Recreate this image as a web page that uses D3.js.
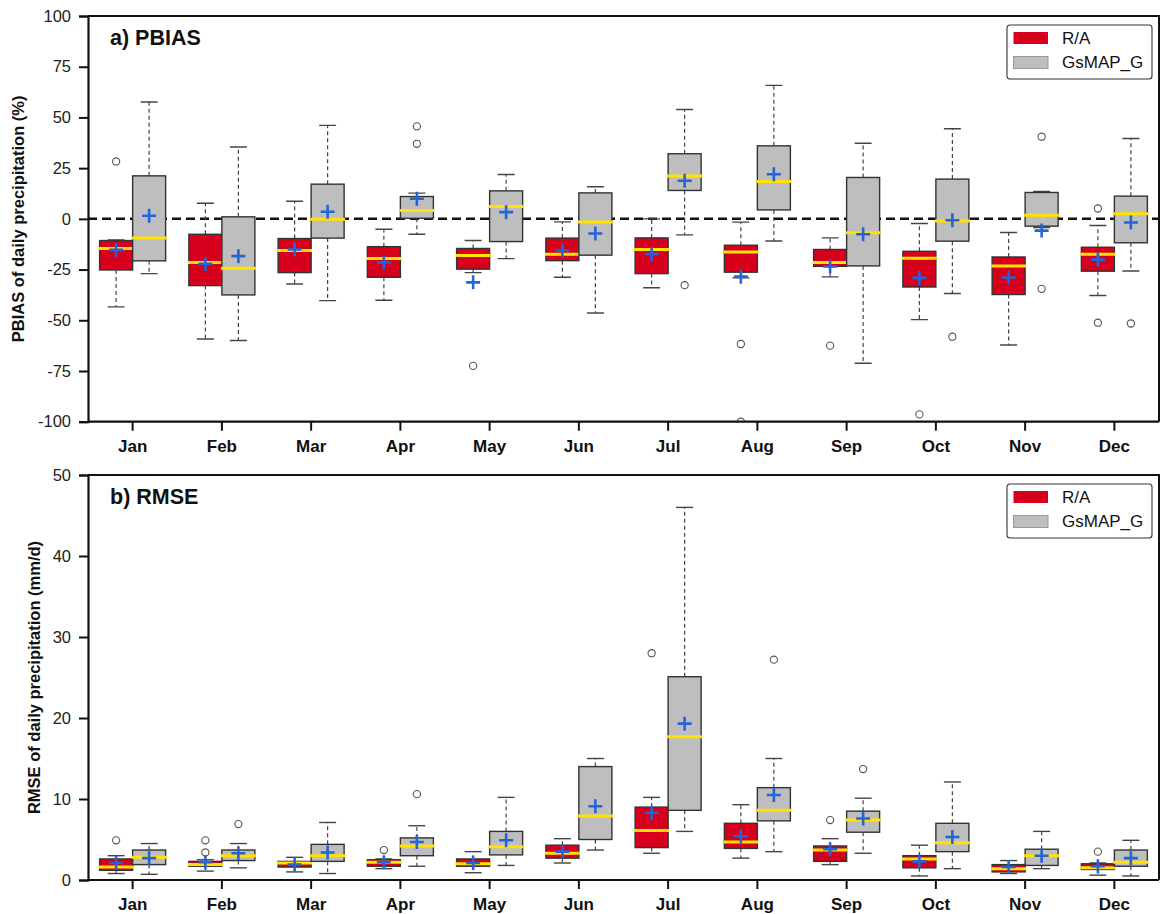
<!DOCTYPE html>
<html>
<head>
<meta charset="utf-8">
<script src="https://cdn.jsdelivr.net/npm/d3@7/dist/d3.min.js"></script>
<style>
  body { margin: 0; background: #fff; }
  svg { display: block; font-family: "Liberation Sans", Arial, sans-serif; }
</style>
</head>
<body>
<svg id="chart" width="1160" height="914"></svg>
<script>
// Month categories
const months = ["Jan","Feb","Mar","Apr","May","Jun","Jul","Aug","Sep","Oct","Nov","Dec"];
const seriesNames = ["R/A", "GsMAP_G"];

// Box statistics per month: [whiskerLow, q1, median, q3, whiskerHigh, mean]
const pbiasRA = [
  [-43.4, -25.2, -14.6, -10.7, -10.4, -15.3],
  [-59.2, -32.9, -21.5,  -7.6,   7.7, -22.2],
  [-32.1, -26.5, -15.6,  -9.7,   8.7, -15.1],
  [-40.1, -28.8, -19.6, -13.7,  -5.1, -21.5],
  [-26.5, -24.8, -18.1, -14.6, -10.7, -31.3],
  [-28.8, -20.6, -17.4,  -9.5,  -1.5, -15.6],
  [-34.0, -27.0, -15.1,  -9.4,   0.0, -17.3],
  [-29.1, -26.3, -16.4, -13.0,  -1.6, -28.5],
  [-28.6, -23.4, -21.5, -15.1,  -9.4, -23.5],
  [-49.7, -33.6, -19.4, -16.0,  -2.3, -29.1],
  [-62.2, -37.3, -23.2, -18.8,  -6.7, -28.9],
  [-37.8, -25.8, -17.4, -14.0,  -3.3, -20.1]
];
const pbiasGS = [
  [-27.0, -20.7,  -9.5, 21.2, 57.6,  1.5],
  [-60.0, -37.5, -24.3,  1.0, 35.4, -18.4],
  [-40.3,  -9.5,  -0.2, 17.1, 46.1,  3.5],
  [ -7.6,   0.3,   4.1, 11.0, 12.7,  9.9],
  [-19.6, -11.2,   6.1, 13.8, 21.9,  3.3],
  [-46.4, -17.9,  -1.6, 12.8, 15.8, -7.2],
  [ -7.9,  14.0,  21.1, 32.1, 53.9, 18.8],
  [-10.9,   4.4,  18.4, 36.0, 65.8, 22.0],
  [-71.2, -23.2,  -6.9, 20.4, 37.3, -7.6],
  [-36.8, -11.0,  -1.0, 19.6, 44.4, -0.7],
  [ -4.3,  -3.6,   1.8, 13.0, 13.5, -5.8],
  [-25.7, -11.8,   2.5, 11.2, 39.6, -1.8]
];
// Outliers per month
const pbiasRAOut = [[28.3], [], [], [], [-72.5], [], [], [-61.7, -100], [-62.5], [-96.4], [], [5.1, -51.2]];
const pbiasGSOut = [[], [], [], [45.6, 37.0], [], [], [-32.7], [], [], [-58.1], [40.5, -34.5], [-51.6]];

const rmseRA = [
  [0.8, 1.2, 1.6, 2.6,  3.0, 2.1],
  [1.1, 1.7, 1.9, 2.3,  2.5, 2.2],
  [1.0, 1.6, 2.1, 2.3,  2.8, 1.9],
  [1.4, 1.7, 2.2, 2.5,  2.6, 2.2],
  [0.9, 1.7, 2.0, 2.6,  3.5, 2.1],
  [2.1, 2.7, 3.3, 4.3,  5.1, 3.5],
  [3.3, 4.0, 6.1, 9.0, 10.2, 8.3],
  [2.7, 3.9, 4.7, 7.0,  9.3, 5.4],
  [1.9, 2.3, 3.7, 4.2,  5.1, 3.8],
  [0.5, 1.5, 2.6, 3.0,  4.3, 2.3],
  [0.8, 1.0, 1.4, 1.9,  2.4, 1.6],
  [0.6, 1.3, 1.5, 2.0,  2.1, 1.7]
];
const rmseGS = [
  [0.7, 1.9,  2.8,  3.7,  4.5,  2.7],
  [1.5, 2.4,  3.0,  3.7,  4.5,  3.3],
  [0.8, 2.3,  3.0,  4.4,  7.1,  3.4],
  [1.7, 3.0,  4.2,  5.2,  6.7,  4.7],
  [1.8, 3.1,  4.1,  6.0, 10.2,  4.9],
  [3.7, 5.0,  7.9, 14.0, 15.0,  9.1],
  [6.0, 8.6, 17.7, 25.1, 46.0, 19.3],
  [3.5, 7.3,  8.6, 11.4, 15.0, 10.5],
  [3.3, 5.9,  7.4,  8.5, 10.1,  7.6],
  [1.4, 3.5,  4.6,  7.0, 12.1,  5.3],
  [1.4, 1.8,  3.0,  3.8,  6.0,  3.0],
  [0.5, 1.7,  2.2,  3.7,  4.9,  2.7]
];
const rmseRAOut = [[4.9], [4.9, 3.4], [], [3.7], [], [], [28.0], [], [7.4], [], [], [3.5]];
const rmseGSOut = [[], [6.9], [], [10.6], [], [], [], [27.2], [13.7], [], [], []];

const pbiasTicks = [100, 75, 50, 25, 0, -25, -50, -75, -100];
const rmseTicks = [0, 10, 20, 30, 40, 50];

const fillColors = ["#d6001c", "#bebebe"];
const medianColor = "#ffe200";
const meanColor = "#2563d9";

const svg = d3.select("#chart");
const xLeft = 88, xRight = 1159;

function drawPanel(cfg) {
  const g = svg.append("g");
  const x = d3.scaleBand().domain(months).range([xLeft, xRight]).paddingInner(0).paddingOuter(0);
  const y = d3.scaleLinear().domain(cfg.domain).range([cfg.bottom, cfg.top]);
  const bw = 33;
  const clipId = "clip-" + cfg.id;

  g.append("clipPath").attr("id", clipId)
    .append("rect").attr("x", xLeft).attr("y", cfg.top).attr("width", xRight - xLeft).attr("height", cfg.bottom - cfg.top);

  const plot = g.append("g").attr("clip-path", `url(#${clipId})`);

  // zero reference line
  if (cfg.zeroLine) {
    plot.append("line")
      .attr("x1", xLeft).attr("x2", xRight)
      .attr("y1", y(0)).attr("y2", y(0))
      .attr("stroke", "#111").attr("stroke-width", 2.5).attr("stroke-dasharray", "9,5");
  }

  cfg.series.forEach((stats, si) => {
    stats.forEach((s, i) => {
      const [wlo, q1, med, q3, whi, mean] = s;
      const cx = x(months[i]) + x.bandwidth() / 2;
      const x0 = si === 0 ? cx - bw : cx;
      const mid = x0 + bw / 2;
      const bg = plot.append("g");
      // whiskers
      bg.append("line").attr("x1", mid).attr("x2", mid).attr("y1", y(q3)).attr("y2", y(whi))
        .attr("stroke", "#444").attr("stroke-width", 1.2).attr("stroke-dasharray", "4,3");
      bg.append("line").attr("x1", mid).attr("x2", mid).attr("y1", y(q1)).attr("y2", y(wlo))
        .attr("stroke", "#444").attr("stroke-width", 1.2).attr("stroke-dasharray", "4,3");
      [wlo, whi].forEach(v => {
        bg.append("line").attr("x1", mid - 8.5).attr("x2", mid + 8.5).attr("y1", y(v)).attr("y2", y(v))
          .attr("stroke", "#444").attr("stroke-width", 1.4);
      });
      // box
      bg.append("rect").attr("x", x0).attr("y", y(q3)).attr("width", bw).attr("height", Math.max(0, y(q1) - y(q3)))
        .attr("fill", fillColors[si]).attr("stroke", "#333").attr("stroke-width", 1.4);
      // median
      bg.append("line").attr("x1", x0 - 1).attr("x2", x0 + bw + 1).attr("y1", y(med)).attr("y2", y(med))
        .attr("stroke", medianColor).attr("stroke-width", 3);
      // mean cross
      bg.append("path")
        .attr("d", `M${mid - 7},${y(mean)}H${mid + 7}M${mid},${y(mean) - 7}V${y(mean) + 7}`)
        .attr("stroke", meanColor).attr("stroke-width", 2.6).attr("fill", "none");
      // outliers
      cfg.outliers[si][i].forEach(v => {
        bg.append("circle").attr("cx", mid).attr("cy", y(v)).attr("r", 3.6)
          .attr("fill", "none").attr("stroke", "#555").attr("stroke-width", 1.1);
      });
    });
  });

  // frame (top and right)
  g.append("path")
    .attr("d", `M${xLeft},${cfg.top}H${xRight}V${cfg.bottom}`)
    .attr("fill", "none").attr("stroke", "#111").attr("stroke-width", 2);

  // axes
  const yAxis = g.append("g").attr("transform", `translate(${xLeft},0)`)
    .call(d3.axisLeft(y).tickValues(cfg.ticks).tickSize(9).tickPadding(8).tickFormat(d => String(d)));
  yAxis.select(".domain").attr("stroke", "#111").attr("stroke-width", 2.2);
  yAxis.selectAll(".tick line").attr("stroke", "#111").attr("stroke-width", 2);
  yAxis.selectAll(".tick text").attr("font-size", 16.5).attr("fill", "#222").attr("font-family", "Liberation Sans, Arial, sans-serif");

  const xAxis = g.append("g").attr("transform", `translate(0,${cfg.bottom})`)
    .call(d3.axisBottom(x).tickSize(9).tickPadding(9));
  xAxis.select(".domain").attr("stroke", "#111").attr("stroke-width", 2.2)
    .attr("d", `M${xLeft},0H${xRight}`);
  xAxis.selectAll(".tick line").attr("stroke", "#111").attr("stroke-width", 2);
  xAxis.selectAll(".tick text").attr("font-size", 17).attr("font-weight", "bold").attr("fill", "#111")
    .attr("font-family", "Liberation Sans, Arial, sans-serif");

  // y title
  g.append("text")
    .attr("transform", `translate(${cfg.titleX},${(cfg.top + cfg.bottom) / 2}) rotate(-90)`)
    .attr("text-anchor", "middle").attr("dominant-baseline", "central")
    .attr("font-size", 16.5).attr("font-weight", "bold").attr("fill", "#111")
    .text(cfg.yTitle);

  // panel label
  g.append("text").attr("x", 110).attr("y", cfg.top + 29)
    .attr("font-size", 21.5).attr("font-weight", "bold").attr("fill", "#111")
    .text(cfg.label);

  // legend
  const lg = g.append("g").attr("transform", `translate(1007,${cfg.top + 9})`);
  lg.append("rect").attr("x", 0).attr("y", 0).attr("width", 145).attr("height", 54).attr("rx", 3)
    .attr("fill", "#fff").attr("stroke", "#333").attr("stroke-width", 1.1);
  seriesNames.forEach((name, si) => {
    lg.append("rect").attr("x", 6.5).attr("y", 7 + si * 24.5).attr("width", 34.5).attr("height", 12)
      .attr("fill", fillColors[si]).attr("stroke", si === 0 ? "none" : "#999").attr("stroke-width", 1);
    lg.append("text").attr("x", 55).attr("y", 13 + si * 24.5).attr("dominant-baseline", "central")
      .attr("font-size", 17).attr("fill", "#111").text(name);
  });
}

drawPanel({
  id: "pbias", domain: [-100, 100], top: 16, bottom: 421.7, ticks: pbiasTicks,
  series: [pbiasRA, pbiasGS], outliers: [pbiasRAOut, pbiasGSOut], zeroLine: true,
  yTitle: "PBIAS of daily precipitation (%)", titleX: 18, label: "a) PBIAS"
});
drawPanel({
  id: "rmse", domain: [0, 50], top: 475, bottom: 880, ticks: rmseTicks,
  series: [rmseRA, rmseGS], outliers: [rmseRAOut, rmseGSOut], zeroLine: false,
  yTitle: "RMSE of daily precipitation (mm/d)", titleX: 34, label: "b) RMSE"
});
</script>
</body>
</html>
